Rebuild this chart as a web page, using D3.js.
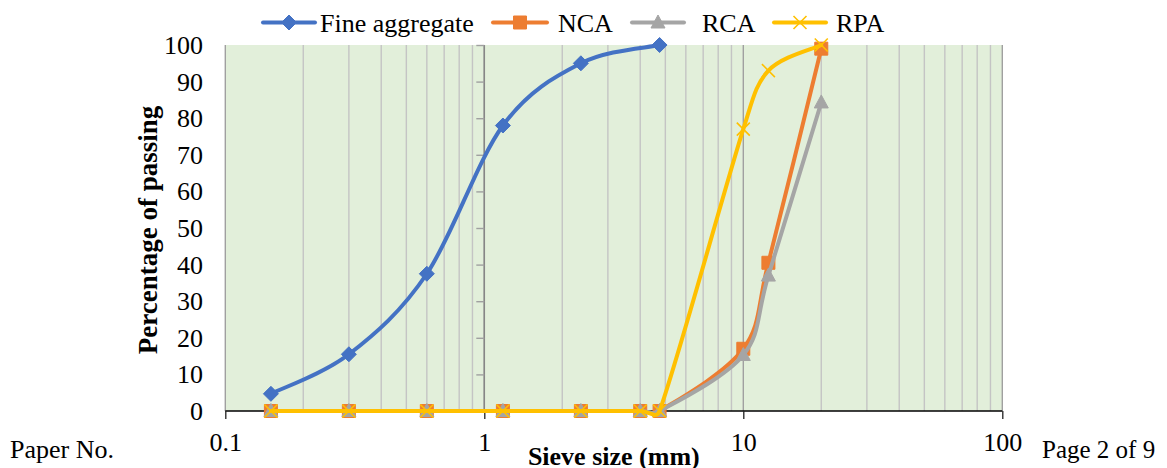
<!DOCTYPE html>
<html><head><meta charset="utf-8">
<script src="https://cdn.jsdelivr.net/npm/d3@7"></script>
<style>body{margin:0;background:#fff}svg{display:block}</style>
</head><body>
<svg id="c" width="1167" height="468"></svg>
<script>
// ---- data ----
const sieveFine = [0.15, 0.3, 0.6, 1.18, 2.36, 4.75];
const fineValues = [4.7, 15.5, 37.5, 78, 95, 100];
const sieveCoarse = [0.15, 0.3, 0.6, 1.18, 2.36, 4, 4.75, 10, 12.5, 20];
const ncaValues = [0, 0, 0, 0, 0, 0, 0, 17, 40.5, 99];
const rcaValues = [0, 0, 0, 0, 0, 0, 0, 15.3, 37, 84.3];
const rpaValues = [0, 0, 0, 0, 0, 0, 0, 77, 93, 100];
const seriesNames = ["Fine aggregate", "NCA", "RCA", "RPA"];
const xTickValues = [0.1, 1, 10, 100];
const xTickLabels = ["0.1", "1", "10", "100"];
const yTickValues = [0, 10, 20, 30, 40, 50, 60, 70, 80, 90, 100];
const xTitle = "Sieve size (mm)";
const yTitle = "Percentage of passing";
const footLeft = "Paper No.";
const footRight = "Page 2 of 9";

// ---- layout ----
const FONT = "'Liberation Serif','Times New Roman',serif";
const svg = d3.select("#c");
const x = d3.scaleLog().domain([0.1, 100]).range([225.3, 1002.3]);
const y = d3.scaleLinear().domain([0, 100]).range([411, 45]);
const yAxisAt = 1;

const colors = {"Fine aggregate": "#4472C4", "NCA": "#ED7D31", "RCA": "#A5A5A5", "RPA": "#FFC000"};

// plot background
svg.append("rect")
  .attr("x", x(0.1)).attr("y", y(100))
  .attr("width", x(100) - x(0.1)).attr("height", y(0) - y(100))
  .attr("fill", "#E2EFDA");

// vertical gridlines
const gridTicks = x.ticks();
svg.append("g").selectAll("line").data(gridTicks).join("line")
  .attr("x1", d => x(d)).attr("x2", d => x(d))
  .attr("y1", y(100)).attr("y2", y(0))
  .attr("stroke", d => Math.abs(Math.log10(d) - Math.round(Math.log10(d))) < 1e-9 ? "#A0A0A0" : "#C4C4C4")
  .attr("stroke-width", 1.4);

// x axis
const xAxis = svg.append("g").attr("transform", `translate(0,${y(0)})`)
  .call(d3.axisBottom(x).tickValues(xTickValues).tickSize(8).tickPadding(14)
    .tickFormat((d, i) => xTickLabels[i]));
xAxis.select(".domain").attr("stroke", "#000").attr("stroke-width", 1.3).attr("d", `M${x(0.1)},0H${x(100)}`);
xAxis.selectAll(".tick line").attr("stroke", "#222").attr("stroke-width", 1.3);
xAxis.selectAll(".tick text").attr("font-family", FONT).attr("font-size", 26).attr("fill", "#000");

// y axis (crosses at x = 1)
const yAxis = svg.append("g").attr("transform", `translate(${x(yAxisAt)},0)`)
  .call(d3.axisLeft(y).tickValues(yTickValues).tickSize(8).tickFormat(""));
yAxis.select(".domain").attr("stroke", "#868686").attr("stroke-width", 1.5).attr("d", `M0,${y(0)}V${y(100)}`);
yAxis.selectAll(".tick line").attr("stroke", "#A0A0A0").attr("stroke-width", 1.4);

// y tick labels (low position)
svg.append("g").selectAll("text").data(yTickValues).join("text")
  .attr("x", 203).attr("y", d => y(d) + 9)
  .attr("text-anchor", "end")
  .attr("font-family", FONT).attr("font-size", 26).attr("fill", "#000")
  .text(d => d);

// axis titles
svg.append("text").attr("x", (x(0.1) + x(100)) / 2).attr("y", 465)
  .attr("text-anchor", "middle").attr("font-family", FONT).attr("font-size", 26)
  .attr("font-weight", "bold").text(xTitle);
svg.append("text").attr("transform", `translate(157,${(y(0) + y(100)) / 2 + 2}) rotate(-90)`)
  .attr("text-anchor", "middle").attr("font-family", FONT).attr("font-size", 27)
  .attr("font-weight", "bold").text(yTitle);

// footer texts
svg.append("text").attr("x", 10).attr("y", 458).attr("font-family", FONT).attr("font-size", 26).text(footLeft);
svg.append("text").attr("x", 1042).attr("y", 458).attr("font-family", FONT).attr("font-size", 25).text(footRight);

// Excel-like smoothing
function excelSmooth(pts) {
  const p = d3.path();
  const n = pts.length;
  p.moveTo(pts[0][0], pts[0][1]);
  const dist = (a, b) => Math.hypot(a[0] - b[0], a[1] - b[1]);
  for (let i = 0; i < n - 1; i++) {
    const p0 = i === 0 ? pts[0] : pts[i - 1];
    const p1 = pts[i], p2 = pts[i + 1];
    const p3 = i === n - 2 ? pts[n - 1] : pts[i + 2];
    const d12 = dist(p1, p2), d02 = dist(p0, p2), d13 = dist(p1, p3);
    let f1 = 1 / 6, f2 = 1 / 6;
    if (d02 / 6 > d12 / 2 && d02 > 0) f1 = d12 / 2 / d02;
    if (d13 / 6 > d12 / 2 && d13 > 0) f2 = d12 / 2 / d13;
    const b1 = [p1[0] + (p2[0] - p0[0]) * f1, p1[1] + (p2[1] - p0[1]) * f1];
    const b2 = [p2[0] - (p3[0] - p1[0]) * f2, p2[1] - (p3[1] - p1[1]) * f2];
    p.bezierCurveTo(b1[0], b1[1], b2[0], b2[1], p2[0], p2[1]);
  }
  return p.toString();
}

function markerPath(type, cx, cy) {
  if (type === "diamond") return `M${cx},${cy - 7.5}L${cx + 7.5},${cy}L${cx},${cy + 7.5}L${cx - 7.5},${cy}Z`;
  if (type === "square") return `M${cx - 6.5},${cy - 6.5}h13v13h-13Z`;
  if (type === "triangle") return `M${cx},${cy - 7.5}L${cx + 7},${cy + 5.5}L${cx - 7},${cy + 5.5}Z`;
  return `M${cx - 6.5},${cy - 6.5}L${cx + 6.5},${cy + 6.5}M${cx + 6.5},${cy - 6.5}L${cx - 6.5},${cy + 6.5}`;
}

const series = [
  {name: "Fine aggregate", xs: sieveFine, ys: fineValues, marker: "diamond"},
  {name: "NCA", xs: sieveCoarse, ys: ncaValues, marker: "square"},
  {name: "RCA", xs: sieveCoarse, ys: rcaValues, marker: "triangle"},
  {name: "RPA", xs: sieveCoarse, ys: rpaValues, marker: "x"}
];

function drawMarker(g, type, cx, cy, col) {
  const m = g.append("path").attr("d", markerPath(type, cx, cy));
  if (type === "x") m.attr("fill", "none").attr("stroke", col).attr("stroke-width", 1.6);
  else m.attr("fill", col).attr("stroke", col).attr("stroke-width", 1);
}

series.forEach(s => {
  const col = colors[s.name];
  const pts = s.xs.map((v, i) => [x(v), y(s.ys[i])]);
  const g = svg.append("g");
  g.append("path").attr("d", excelSmooth(pts)).attr("fill", "none")
    .attr("stroke", col).attr("stroke-width", 4).attr("stroke-linejoin", "round").attr("stroke-linecap", "round");
  pts.forEach(p => drawMarker(g, s.marker, p[0], p[1], col));
});

// legend
const legendPos = [
  {x1: 263, x2: 315, tx: 320},
  {x1: 493, x2: 547, tx: 558},
  {x1: 632, x2: 684, tx: 702},
  {x1: 774, x2: 826, tx: 836}
];
series.forEach((s, i) => {
  const L = legendPos[i], col = colors[s.name];
  const g = svg.append("g");
  g.append("line").attr("x1", L.x1).attr("x2", L.x2).attr("y1", 22.5).attr("y2", 22.5)
    .attr("stroke", col).attr("stroke-width", 4).attr("stroke-linecap", "round");
  drawMarker(g, s.marker, (L.x1 + L.x2) / 2, 22.5, col);
  g.append("text").attr("x", L.tx).attr("y", 31.5).attr("font-family", FONT).attr("font-size", 26)
    .attr("fill", "#000").text(s.name);
});
</script>
</body></html>
